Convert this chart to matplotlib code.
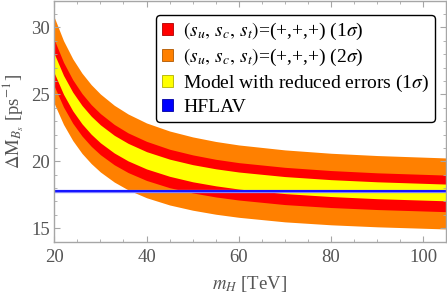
import matplotlib
matplotlib.use("Agg")
import matplotlib.pyplot as plt
from matplotlib.patches import Patch

# m_H [TeV]
mH = [20, 22, 24, 26, 28, 30, 33, 36, 40, 45, 50, 55, 60, 70, 80, 90, 105]
# 2 sigma band (orange)
orange_hi = [30.74, 29.00, 27.65, 26.58, 25.72, 25.02, 24.18, 23.53, 22.86, 22.26, 21.82, 21.48, 21.22, 20.85, 20.60, 20.43, 20.25]
orange_lo = [24.30, 22.75, 21.55, 20.59, 19.83, 19.20, 18.45, 17.87, 17.28, 16.74, 16.35, 16.05, 15.82, 15.48, 15.26, 15.11, 14.95]
# 1 sigma band (red)
red_hi = [29.06, 27.39, 26.09, 25.06, 24.23, 23.56, 22.75, 22.12, 21.49, 20.90, 20.48, 20.15, 19.90, 19.55, 19.31, 19.14, 18.97]
red_lo = [25.60, 24.05, 22.84, 21.89, 21.12, 20.49, 19.74, 19.16, 18.57, 18.03, 17.64, 17.34, 17.11, 16.77, 16.55, 16.40, 16.24]
# reduced errors (yellow)
yellow_hi = [28.02, 26.41, 25.16, 24.17, 23.37, 22.72, 21.94, 21.34, 20.72, 20.16, 19.75, 19.44, 19.20, 18.86, 18.63, 18.47, 18.30]
yellow_lo = [26.58, 25.00, 23.77, 22.80, 22.02, 21.38, 20.62, 20.03, 19.43, 18.88, 18.47, 18.17, 17.93, 17.59, 17.37, 17.21, 17.05]
hflav = 17.76

labels = [r'$(s_u,\, s_c,\, s_t)$=(+,+,+) (1$\sigma$)',
          r'$(s_u,\, s_c,\, s_t)$=(+,+,+) (2$\sigma$)',
          r'Model with reduced errors (1$\sigma$)',
          'HFLAV']
xticks = [20, 40, 60, 80, 100]
yticks = [15, 20, 25, 30]

plt.rcParams['font.family'] = ['Liberation Serif', 'DejaVu Serif']
plt.rcParams['mathtext.fontset'] = 'stix'

fig = plt.figure(figsize=(4.47, 2.98), dpi=100)
ax = fig.add_axes([54.3/447, 1-241.7/298, (445.5-54.3)/447, (241.7-0.5)/298])

ax.fill_between(mH, orange_lo, orange_hi, color='#ff8000', lw=0)
ax.fill_between(mH, red_lo, red_hi, color='#ff0000', lw=0)
ax.fill_between(mH, yellow_lo, yellow_hi, color='#ffff00', lw=0)
ax.axhline(hflav, color='#8080ff', lw=2.4)
ax.axhline(hflav, color='#0000ff', lw=1.2)

ax.set_xlim(20, 104.8)
ax.set_ylim(14, 32)
ax.set_xticks(xticks)
ax.set_yticks(yticks)
ax.set_xticks(range(20, 105, 5), minor=True)
ax.set_yticks(range(14, 33), minor=True)
grey = '#a6a6a6'
for s in ax.spines.values():
    s.set_color(grey)
    s.set_linewidth(1.0)
ax.tick_params(which='both', direction='in', top=True, right=True, color=grey,
               labelcolor='#555555', labelsize=13.5)
ax.tick_params(which='major', length=4.5, width=0.8, pad=5)
ax.tick_params(which='minor', length=2.5, width=0.6)
ax.tick_params(axis='y', which='major', pad=3)

ax.set_xlabel(r'$m_H$ [TeV]', fontsize=13.5, color='#555555', labelpad=6)
ax.set_ylabel(r'$\Delta\mathrm{M}_{B_s}$ [ps$^{-1}$]', fontsize=13.5, color='#555555', labelpad=4)

handles = [Patch(facecolor='#ff0000', edgecolor='#b00000', lw=0.6),
           Patch(facecolor='#ff8000', edgecolor='#b05800', lw=0.6),
           Patch(facecolor='#ffff00', edgecolor='#b0b000', lw=0.6),
           Patch(facecolor='#0000ff', edgecolor='#0000a0', lw=0.6)]
leg = ax.legend(handles, labels, loc='upper right',
                bbox_to_anchor=(435/447, 1-15/298), bbox_transform=fig.transFigure,
                fontsize=14, frameon=True, fancybox=True, framealpha=1,
                edgecolor='black', handlelength=0.55, handleheight=0.55,
                handletextpad=0.55, labelspacing=0.25, borderpad=0.3,
                borderaxespad=0)
leg.get_frame().set_linewidth(1.0)

fig.savefig('out.png', dpi=100)
